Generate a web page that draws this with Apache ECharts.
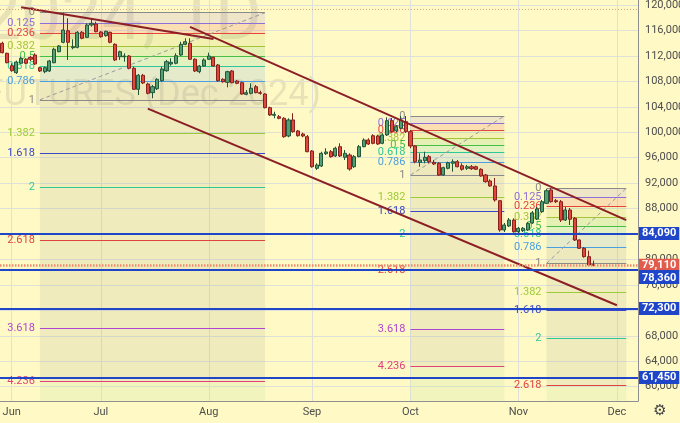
<!DOCTYPE html>
<html><head><meta charset="utf-8">
<script src="https://cdn.jsdelivr.net/npm/echarts@6/dist/echarts.min.js"></script>
<style>html,body{margin:0;padding:0;background:#fff9c6}#c{width:680px;height:423px}</style>
</head><body><div id="c"></div>
<script>
const FONT = 'Roboto, "DejaVu Sans", sans-serif';
// trading days (category axis)
const tradingDays = {
  '2024-05': [30,31],
  '2024-06': [3,4,5,6,7,10,11,13,14,17,18,19,20,21,24,25,26,27,28],
  '2024-07': [1,2,3,4,5,8,9,10,11,12,15,16,17,18,19,22,23,24,25,26,29,30,31],
  '2024-08': [1,2,5,6,7,8,9,12,13,14,15,16,19,20,21,22,23,26,27,28,29,30],
  '2024-09': [2,3,4,5,6,9,10,11,12,13,16,17,18,19,20,23,24,25,26,27,30],
  '2024-10': [1,2,3,4,7,8,9,10,11,14,15,16,17,18,21,22,23,24,25,28,29,30,31],
  '2024-11': [1,4,5,6,7,8,11,12,13,14,15,18,19,20,21,22,25,26,27,28,29],
  '2024-12': [2,3,4,5,6]
};
const monthTickLabels = {'2024-06':'Jun','2024-07':'Jul','2024-08':'Aug','2024-09':'Sep','2024-10':'Oct','2024-11':'Nov','2024-12':'Dec'};
const yTicks = [60000,64000,68000,72000,76000,80000,84000,88000,92000,96000,100000,104000,108000,112000,116000,120000];

// daily candles [open, close, low, high], starting 2024-05-30
const ohlc = [
[113980,112500,112410,114230],[112410,110930,110840,112500],[110460,109670,109520,110840],[109360,111040,109160,111250],
[110840,111620,110730,111870],[111470,110840,110730,111620],[111780,111470,111200,111980],[112140,110730,110570,112410],
[110150,109630,109470,110300],[109520,110150,109270,110300],[109630,111200,109470,111360],[110930,113040,110840,113290],
[112660,113560,112570,113710],[114140,116070,113980,118790],[115960,114140,111360,117910],[113290,113450,113040,114610],
[113350,115710,113190,115910],[115710,114770,114610,115910],[114920,116860,114810,117120],[116860,117120,116590,117910],
[117010,115800,115710,117380],[115760,115020,114860,115910],[115180,115870,115020,115960],[115710,114140,113980,115800],
[113820,111360,111200,113980],[111870,112660,111360,112820],[111870,111980,111090,112410],[111980,110050,109890,112140],
[110050,106750,106640,110300],[106750,108950,105850,109160],[108950,107740,107580,109160],[107580,106120,105960,107790],
[106220,107160,105340,107430],[106840,108320,106640,108480],[108100,109940,107940,110300],[109670,111090,109520,111360],
[110730,110990,110460,111620],[110840,112030,110680,112410],[112140,113820,111980,114230],[113820,114230,113670,114770],
[113980,111470,111360,114770],[111470,109630,109470,111620],[109520,110410,109270,110570],[110410,111360,110300,111620],
[111470,111980,111360,112500],[111780,110410,110300,111870],[110570,108100,107940,110730],[108320,107940,107790,108480],
[107850,109520,107060,109670],[109630,107790,107690,109780],[108050,107690,107540,108210],[107790,106010,105900,107940],
[105960,106220,105810,106640],[106120,106910,105960,107690],[107160,106220,106120,107430],[106220,106120,105900,106530],
[106010,103860,103760,106120],[103860,102710,102550,104020],[102660,102820,102190,103230],[102440,102190,102040,102710],
[102190,99300,99140,102350],[99410,101930,99210,102190],[101930,100090,99930,102980],[100200,99460,99300,100350],
[99720,99410,99210,99930],[99300,96940,96850,99570],[97050,94580,94430,97210],[94330,94850,94070,95120],
[94690,96690,94540,96940],[96630,96900,96420,97480],[96940,96160,96000,97210],[96270,97480,96110,97730],
[97730,96270,96110,98260],[96060,96690,95640,97210],[96420,94220,93960,96690],[94580,96160,94380,96420],
[96160,97730,96060,98000],[97730,98780,97630,99050],[98780,98150,98000,99050],[99460,98260,98110,99680],
[99410,98150,98000,99610],[98260,99570,98110,99830],[99570,101820,99410,102350],[101820,100090,99930,102240],
[100240,100870,100040,101140],[100620,101930,100510,102550],[101660,100090,99880,102550],[100090,97840,97480,100350],
[97840,95370,95120,98000],[95280,95640,94580,96690],[95530,96060,95120,96940],[96160,95370,95120,96420],
[95280,95010,94850,95640],[95120,93280,93170,95280],[93280,94430,93170,94580],[94330,95210,94180,95370],
[95120,95370,93800,95750],[95370,94580,94490,95640],[94740,94180,93960,95120],[94330,94580,94070,94850],
[94580,94270,94070,94850],[94580,94180,94070,94740],[94180,93120,93010,94330],[93280,92230,92070,93440],
[92340,91550,91440,92600],[91550,89350,89080,92810],[89240,84640,84370,89350],[84640,85420,84320,85740],
[85270,86210,85110,86520],[86210,84370,84210,86470],[84370,84900,84160,85110],[84530,84900,84320,85110],
[84640,85690,84480,85890],[85740,87310,85580,87620],[86360,87940,86210,88250],[87510,89080,87310,89350],
[88830,90810,88720,91080],[90920,89080,88930,91190],[89240,89080,88880,89510],[89080,86210,85890,89350],
[86210,87780,86050,88250],[87780,86320,85420,88090],[86470,83060,82910,86680],[83060,81760,81650,83160],
[81760,80440,80280,81960],[80440,79130,78980,81380],[79200,79110,78950,79810]
];

// horizontal levels
const supportLevels = [84090, 78360, 72300, 61450];
const lastPrice = 79110;
const topDottedLevel = 119330;

// trend channel lines [[date, price], [date, price]]
const channelLines = [
  [['2024-06-05',119630],['2024-08-02',114650]],
  [['2024-07-26',116560],['2024-12-04',86180]],
  [['2024-07-15',103720],['2024-12-02',72810]]
];

// fibonacci drawings
const fibRatios = [0,0.125,0.236,0.382,0.5,0.618,0.786,1,1.382,1.618,2,2.618,3.618,4.236];
const fibColors = ['#8a8a8a','#8e6fd8','#e5453d','#a2c637','#45c045','#2ec79a','#4a9fe0','#8a8a8a','#9ccb38','#3a47c6','#2ec99a','#e0443e','#b045d2','#e0407c'];
const fib1 = {from:'2024-06-11', to:'2024-08-19', p0:118790, p1:105100, levels:14};
const fib2 = {from:'2024-10-01', to:'2024-10-29', p0:102553, p1:93276, levels:14};
const fib3 = {from:'2024-11-11', to:'2024-12-04', p0:91190, p1:79381, levels:12};

const Y_MIN = 57755, Y_MAX = 120786;
const GRID_COLOR = '#dfe1d6';

const categories = [];
const monthStarts = [];
Object.keys(tradingDays).forEach(m => {
  tradingDays[m].forEach((d, i) => {
    const s = m + '-' + String(d).padStart(2,'0');
    categories.push(s);
    if (i === 0 && monthTickLabels[m]) monthStarts.push(s);
  });
});
const monthStartSet = new Set(monthStarts);

function hexA(hex, a) {
  const n = parseInt(hex.slice(1), 16);
  return 'rgba(' + (n>>16) + ',' + ((n>>8)&255) + ',' + (n&255) + ',' + a + ')';
}

function fibSeries(f) {
  const r = fibRatios.slice(0, f.levels);
  const lv = r.map(x => f.p0 - x * (f.p0 - f.p1));
  const lines = r.map((x, i) => [
    {coord:[f.from, lv[i]], lineStyle:{color: fibColors[i], width:1, type:'solid'},
     label:{show:true, formatter: String(x), color: fibColors[i]}},
    {coord:[f.to, lv[i]]}
  ]);
  lines.push([{coord:[f.from, f.p1], lineStyle:{color:'#9a9a9a', width:1, type:[4,3]}, label:{show:false}},
              {coord:[f.to, f.p0]}]);
  const areas = [];
  for (let i = 0; i < r.length - 1; i++) {
    const col = r[i+1] <= 1 ? hexA(fibColors[i+1], 0.14) : 'rgba(120,123,110,0.11)';
    areas.push([{coord:[f.from, lv[i]], itemStyle:{color: col}}, {coord:[f.to, lv[i+1]]}]);
  }
  areas.push([{coord:[f.from, lv[r.length-1]], itemStyle:{color:'rgba(190,230,160,0.22)'}}, {coord:[f.to, Y_MIN + 50]}]);
  return {
    type:'line', data:[], silent:true,
    markArea:{silent:true, z:0.5, data: areas},
    markLine:{silent:true, z:1, symbol:['none','none'], animation:false,
      label:{position:'start', distance:5, fontSize:11, fontFamily:FONT},
      data: lines}
  };
}

const fmt = v => v.toLocaleString('en-US');

const option = {
  animation:false,
  backgroundColor:'#fff9c6',
  textStyle:{fontFamily:FONT},
  grid:{left:0, right:42, top:0, bottom:22, outerBoundsMode:'none', containLabel:false},
  graphic:[
    {type:'text', x:262, y:21, z:0, silent:true,
     style:{text:'RIZ2024, 1D', font:'72px Roboto', fill:'rgba(100,100,100,0.15)', align:'right', verticalAlign:'middle'}},
    {type:'text', x:321, y:96, z:0, silent:true,
     style:{text:'RTS INDEX FUTURES (Dec 2024)', font:'36px Roboto', fill:'rgba(100,100,100,0.15)', align:'right', verticalAlign:'middle'}},
    {type:'text', x:660, y:411, z:5, silent:true,
     style:{text:'\u2699', font:'15px "DejaVu Sans"', fill:'#444', align:'center', verticalAlign:'middle'}}
  ],
  xAxis:{
    type:'category', data:categories, boundaryGap:true,
    axisLine:{lineStyle:{color:'#8f8f8f'}}, axisTick:{show:false},
    axisLabel:{interval:(i, v) => monthStartSet.has(v), formatter: v => monthTickLabels[v.slice(0,7)] || '',
      margin:6, color:'#4d4d4d', fontSize:11, fontFamily:FONT},
    splitLine:{show:false}
  },
  yAxis:{
    type:'value', position:'right', min:Y_MIN, max:Y_MAX,
    axisLine:{show:true, lineStyle:{color:'#8f8f8f'}},
    axisTick:{show:false, customValues:yTicks},
    axisLabel:{customValues:yTicks, margin:7, color:'#4d4d4d', fontSize:11, fontFamily:FONT, formatter: fmt},
    splitLine:{show:true, lineStyle:{color:GRID_COLOR, width:1}}
  },
  series:[
    {type:'line', data:[], silent:true,
     markLine:{silent:true, z:0, symbol:['none','none'], label:{show:false},
       lineStyle:{color:GRID_COLOR, width:1, type:'solid'},
       data: monthStarts.map(c => ({xAxis:c}))}},
    fibSeries(fib1), fibSeries(fib2), fibSeries(fib3),
    {type:'candlestick', data:ohlc, barWidth:3.6, z:2,
     itemStyle:{color:'#52a071', color0:'#e0473d', borderColor:'#22553a', borderColor0:'#86211b', borderWidth:1}},
    {type:'line', data:[], silent:true,
     markLine:{silent:true, z:3, symbol:['none','none'], label:{show:false},
       lineStyle:{color:'#8c1f26', width:2, type:'solid'},
       data: channelLines.map(l => [{coord:l[0]}, {coord:l[1]}])}},
    {type:'line', data:[], silent:true,
     markLine:{silent:true, z:4, symbol:['none','none'],
       label:{show:true, position:'end', distance:1, fontSize:11, fontWeight:'bold', fontFamily:FONT,
              color:'#fff', padding:[1,3,0,3], lineHeight:12, formatter: p => fmt(p.value)},
       data: [
         {yAxis:topDottedLevel, lineStyle:{color:'#e2a27e', width:1, type:[1,2]}, label:{show:false}},
         {yAxis:lastPrice, lineStyle:{color:'#ee8a6c', width:2.5, type:[1.5,1.5]}, label:{backgroundColor:'#e25b4b'}},
         ...supportLevels.map(v => ({yAxis:v, lineStyle:{color:'#1f46c9', width:2, type:'solid'},
           label:{backgroundColor:'#1f46c9', verticalAlign: v === 78360 ? 'top' : 'middle', padding: v === 78360 ? [2,3,0,3] : [1,3,0,3]}}))
       ]}}
  ]
};
const chart = echarts.init(document.getElementById('c'), null, {renderer:'canvas'});
chart.setOption(option);
</script></body></html>
